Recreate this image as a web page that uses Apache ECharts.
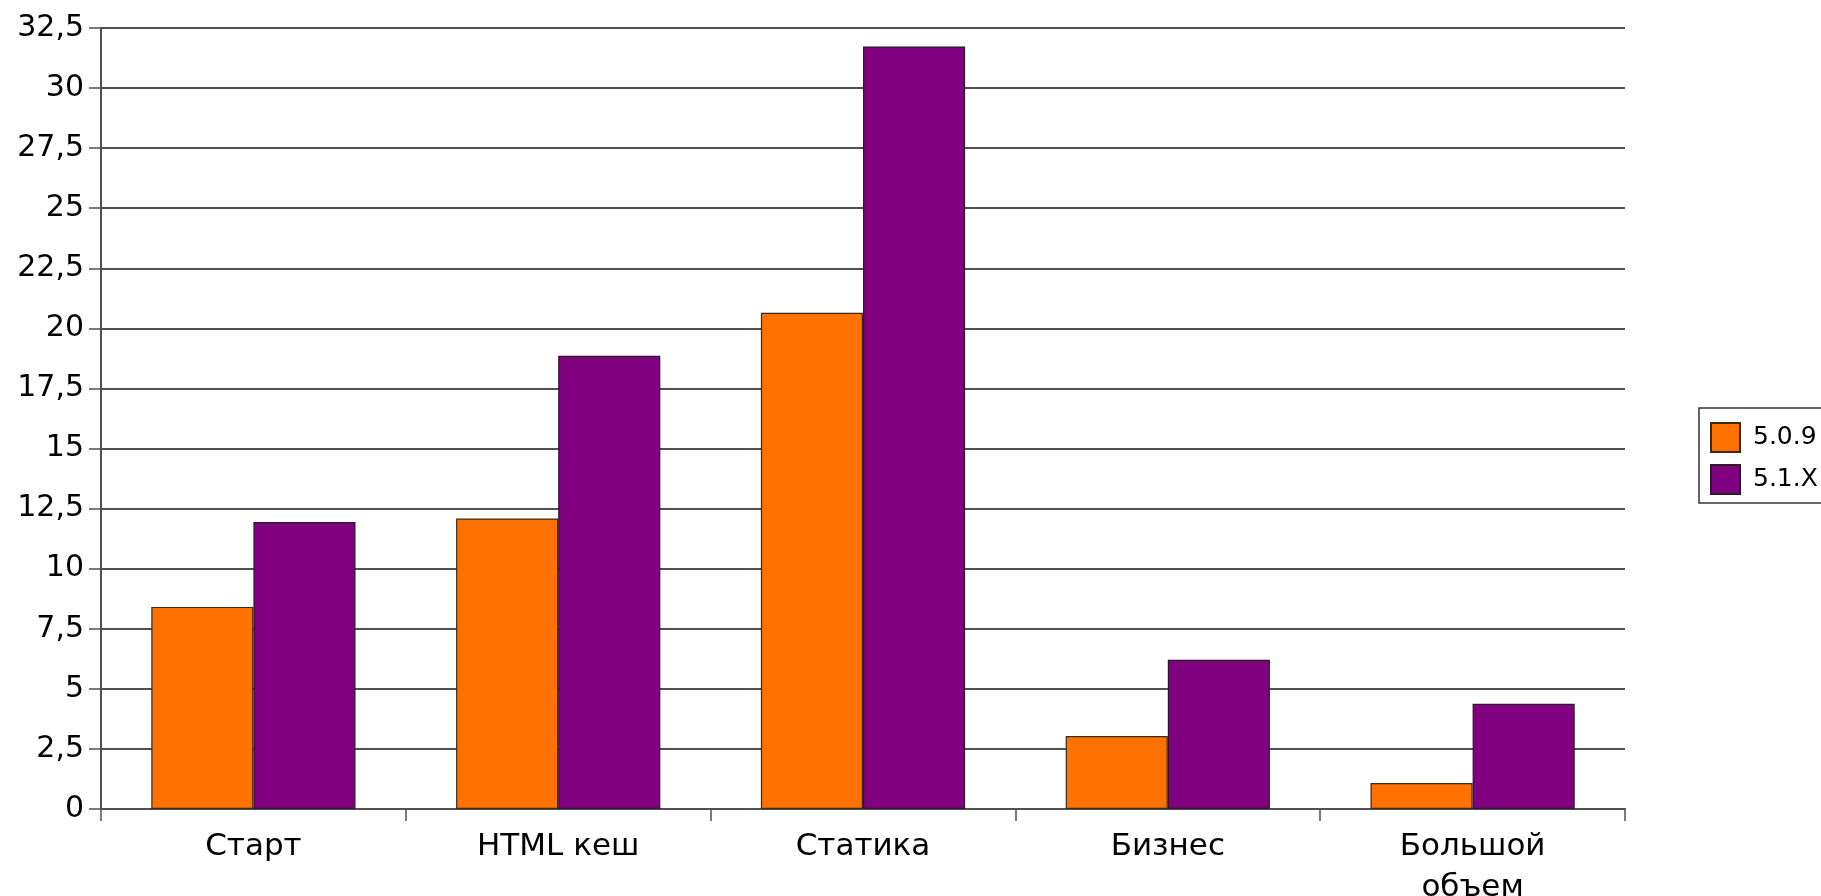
<!DOCTYPE html>
<html>
<head>
<meta charset="utf-8">
<script src="https://cdn.jsdelivr.net/npm/echarts@6/dist/echarts.min.js"></script>
<style>
html,body{margin:0;padding:0;background:#fff;}
#c{width:1821px;height:896px;}
</style>
</head>
<body>
<div id="c"></div>
<script>
var categories = ['Старт', 'HTML кеш', 'Статика', 'Бизнес', 'Большой\nобъем'];
var seriesNames = ['5.0.9', '5.1.X'];
var values509 = [8.41, 12.09, 20.65, 3.04, 1.08];
var values51X = [11.94, 18.86, 31.73, 6.21, 4.38];
var yMin = 0, yMax = 32.5, yStep = 2.5;

var FONT = '"DejaVu Sans", sans-serif';
var lineColor = '#505050';
var chart = echarts.init(document.getElementById('c'), null, {renderer: 'canvas'});
chart.setOption({
  animation: false,
  backgroundColor: '#ffffff',
  grid: {left: 101, right: 196, top: 28, bottom: 87, containLabel: false, outerBoundsMode: 'none'},
  legend: {
    orient: 'vertical',
    left: 1699,
    top: 408,
    padding: [14, 10, 8, 11],
    itemWidth: 29,
    itemHeight: 29,
    itemGap: 11,
    borderColor: '#333',
    borderWidth: 1.5,
    icon: 'rect',
    textStyle: {fontFamily: FONT, fontSize: 25, color: '#000', padding: [0, 0, 0, 8]},
    data: seriesNames
  },
  xAxis: {
    type: 'category',
    data: categories,
    axisLine: {lineStyle: {color: lineColor, width: 2}},
    axisTick: {show: true, length: 12, lineStyle: {color: lineColor, width: 1.5}},
    axisLabel: {fontFamily: FONT, fontSize: 31, color: '#000', margin: 17, lineHeight: 41}
  },
  yAxis: {
    type: 'value',
    min: yMin, max: yMax, interval: yStep,
    axisLine: {show: true, lineStyle: {color: lineColor, width: 2}},
    axisTick: {show: true, length: 12, lineStyle: {color: lineColor, width: 1.5}},
    splitLine: {show: true, lineStyle: {color: lineColor, width: 2}},
    axisLabel: {
      fontFamily: FONT, fontSize: 30, color: '#000', margin: 17,
      formatter: function (v) { return String(v).replace('.', ','); }
    }
  },
  series: [
    {
      name: seriesNames[0], type: 'bar', data: values509,
      barGap: '0%', barCategoryGap: '33%',
      itemStyle: {color: '#ff7200', borderColor: '#3a2a1a', borderWidth: 1.2}
    },
    {
      name: seriesNames[1], type: 'bar', data: values51X,
      barGap: '0%', barCategoryGap: '33%',
      itemStyle: {color: '#800080', borderColor: '#2a1a2a', borderWidth: 1.2}
    }
  ]
});
</script>
</body>
</html>
